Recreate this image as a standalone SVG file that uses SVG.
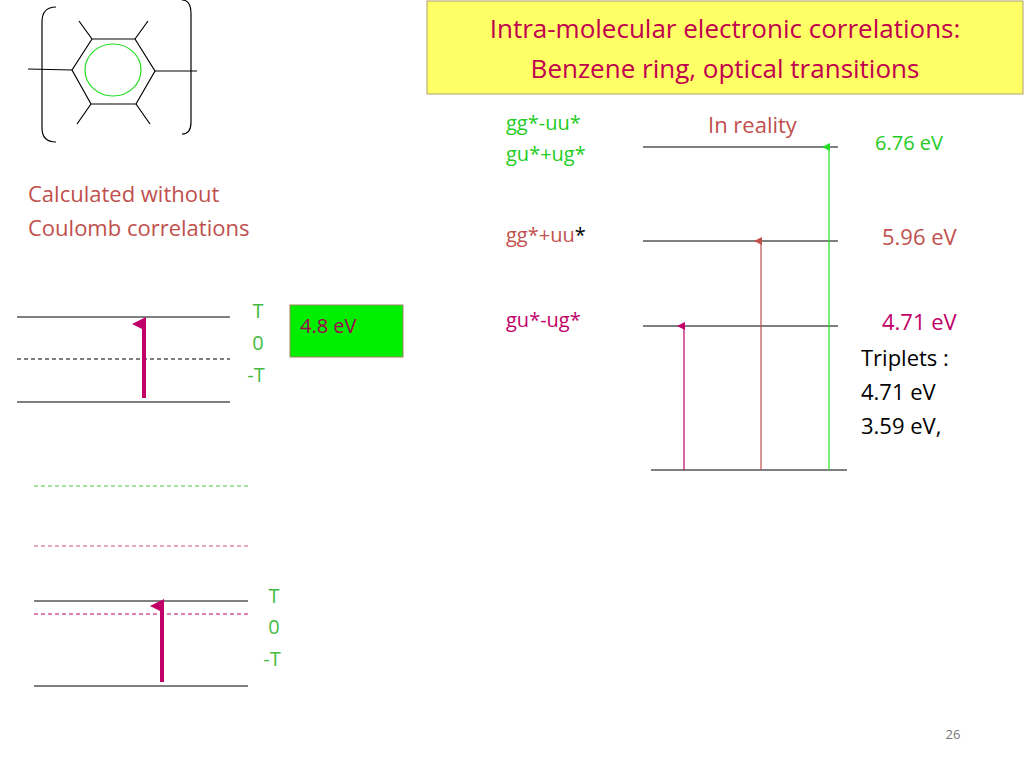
<svg xmlns="http://www.w3.org/2000/svg" width="1024" height="768" viewBox="0 0 1024 768">
<defs>
<style>
text{font-family:"Open Sans","Noto Sans",sans-serif}
.k{stroke:#000;stroke-width:1.2;fill:none}
.d{stroke-dasharray:4 3}
</style>
<marker id="am" markerWidth="8" markerHeight="8" refX="4" refY="7" orient="auto" markerUnits="userSpaceOnUse" viewBox="0 0 8 8"><path d="M0,8 L4,0 L8,8z" fill="#c00068"/></marker>
<marker id="ab" markerWidth="14" markerHeight="14" refX="7" refY="12" orient="auto" markerUnits="userSpaceOnUse" viewBox="0 0 14 14"><path d="M0,14 L7,0 L14,14z" fill="#c00068"/></marker>
<marker id="ar" markerWidth="8" markerHeight="8" refX="4" refY="7" orient="auto" markerUnits="userSpaceOnUse" viewBox="0 0 8 8"><path d="M0,8 L4,0 L8,8z" fill="#c0504d"/></marker>
<marker id="ag" markerWidth="8" markerHeight="8" refX="4" refY="7" orient="auto" markerUnits="userSpaceOnUse" viewBox="0 0 8 8"><path d="M0,8 L4,0 L8,8z" fill="#22dd22"/></marker>
</defs>
<rect width="1024" height="768" fill="#fff"/>
<g id="benzene">
<polygon class="k" points="72,70 92,39 135,39 155,71 136,104 91,104"/>
<path class="k" d="M92,39 L79,21 M135,39 L148,21 M91,104 L77,124 M136,104 L150,124 M72,70 L28,69 M155,71 L197,71"/>
<ellipse cx="113" cy="70" rx="28" ry="26" fill="none" stroke="#22dd22" stroke-width="1.2"/>
<path class="k" d="M56,7 Q42,7 42,22 L42,128 Q42,142 56,142"/>
<path class="k" d="M182,0 Q191,0 191,14 L191,122 Q191,134 182,134"/>
</g>
<g id="title">
<rect x="427" y="1" width="596" height="93" fill="#ffff66" stroke="#b0a070"/>
<text x="725" y="38" font-size="26" fill="#c0004e" text-anchor="middle">Intra-molecular electronic correlations:</text>
<text x="725" y="78" font-size="26" fill="#c0004e" text-anchor="middle">Benzene ring, optical transitions</text>
</g>
<g id="calc-label" font-size="22" fill="#c0504d">
<text x="28" y="202">Calculated without</text>
<text x="28" y="236">Coulomb correlations</text>
</g>
<g id="levels1">
<line class="k" x1="17" y1="317" x2="230" y2="317"/>
<line class="k d" x1="17" y1="359" x2="230" y2="359" stroke="#555"/>
<line class="k" x1="17" y1="402" x2="230" y2="402"/>
<g font-size="20" fill="#44bb44" text-anchor="middle"><text x="258" y="318">T</text><text x="258" y="350">0</text><text x="256" y="382">-T</text></g>
<rect x="290" y="305" width="113" height="52" fill="#00ee00" stroke="#a08060"/>
<text x="300" y="333" font-size="20" fill="#a0004e">4.8 eV</text>
</g>
<g id="levels2">
<line x1="34" y1="486" x2="248" y2="486" stroke="#44cc44" stroke-width="1.2" stroke-dasharray="4 3"/>
<line x1="34" y1="546" x2="248" y2="546" stroke="#cc5577" stroke-width="1.2" stroke-dasharray="4 3"/>
<line class="k" x1="34" y1="601" x2="248" y2="601"/>
<line x1="34" y1="614" x2="248" y2="614" stroke="#c00068" stroke-width="1.2" stroke-dasharray="4 3"/>
<line class="k" x1="34" y1="686" x2="248" y2="686"/>
<g font-size="20" fill="#44bb44" text-anchor="middle"><text x="274" y="603">T</text><text x="274" y="634">0</text><text x="272" y="666">-T</text></g>
</g>
<g id="reality">
<text x="506" y="130" font-size="20" fill="#22cc22">gg*-uu*</text>
<text x="506" y="161" font-size="20" fill="#22cc22">gu*+ug*</text>
<text x="506" y="242" font-size="20" fill="#c0504d">gg*+uu<tspan fill="#000">*</tspan></text>
<text x="506" y="327" font-size="20" fill="#c00068">gu*-ug*</text>
<text x="708" y="133" font-size="22" fill="#c0504d">In reality</text>
<line class="k" x1="643" y1="147" x2="838" y2="147"/>
<line class="k" x1="643" y1="241" x2="838" y2="241"/>
<line class="k" x1="643" y1="326" x2="838" y2="326"/>
<line class="k" x1="651" y1="470" x2="847" y2="470"/>
<text x="875" y="150" font-size="20" fill="#22cc22">6.76 eV</text>
<text x="882" y="245" font-size="22" fill="#c0504d">5.96 eV</text>
<text x="882" y="330" font-size="22" fill="#c00068">4.71 eV</text>
<g font-size="22" fill="#000"><text x="861" y="366">Triplets :</text><text x="861" y="400">4.71 eV</text><text x="861" y="434">3.59 eV,</text></g>
</g>
<g id="connectors">
<line x1="144" y1="398" x2="144" y2="324" stroke="#c00068" stroke-width="4" marker-end="url(#ab)"/>
<line x1="162" y1="682" x2="162" y2="606" stroke="#c00068" stroke-width="4" marker-end="url(#ab)"/>
<line x1="684" y1="470" x2="684" y2="326" stroke="#c00068" stroke-width="1.2" marker-end="url(#am)"/>
<line x1="761" y1="470" x2="761" y2="241" stroke="#c0504d" stroke-width="1.2" marker-end="url(#ar)"/>
<line x1="829" y1="470" x2="829" y2="147" stroke="#22dd22" stroke-width="1.2" marker-end="url(#ag)"/>
</g>
<text x="953" y="739" font-size="13" fill="#777" text-anchor="middle">26</text>
</svg>
